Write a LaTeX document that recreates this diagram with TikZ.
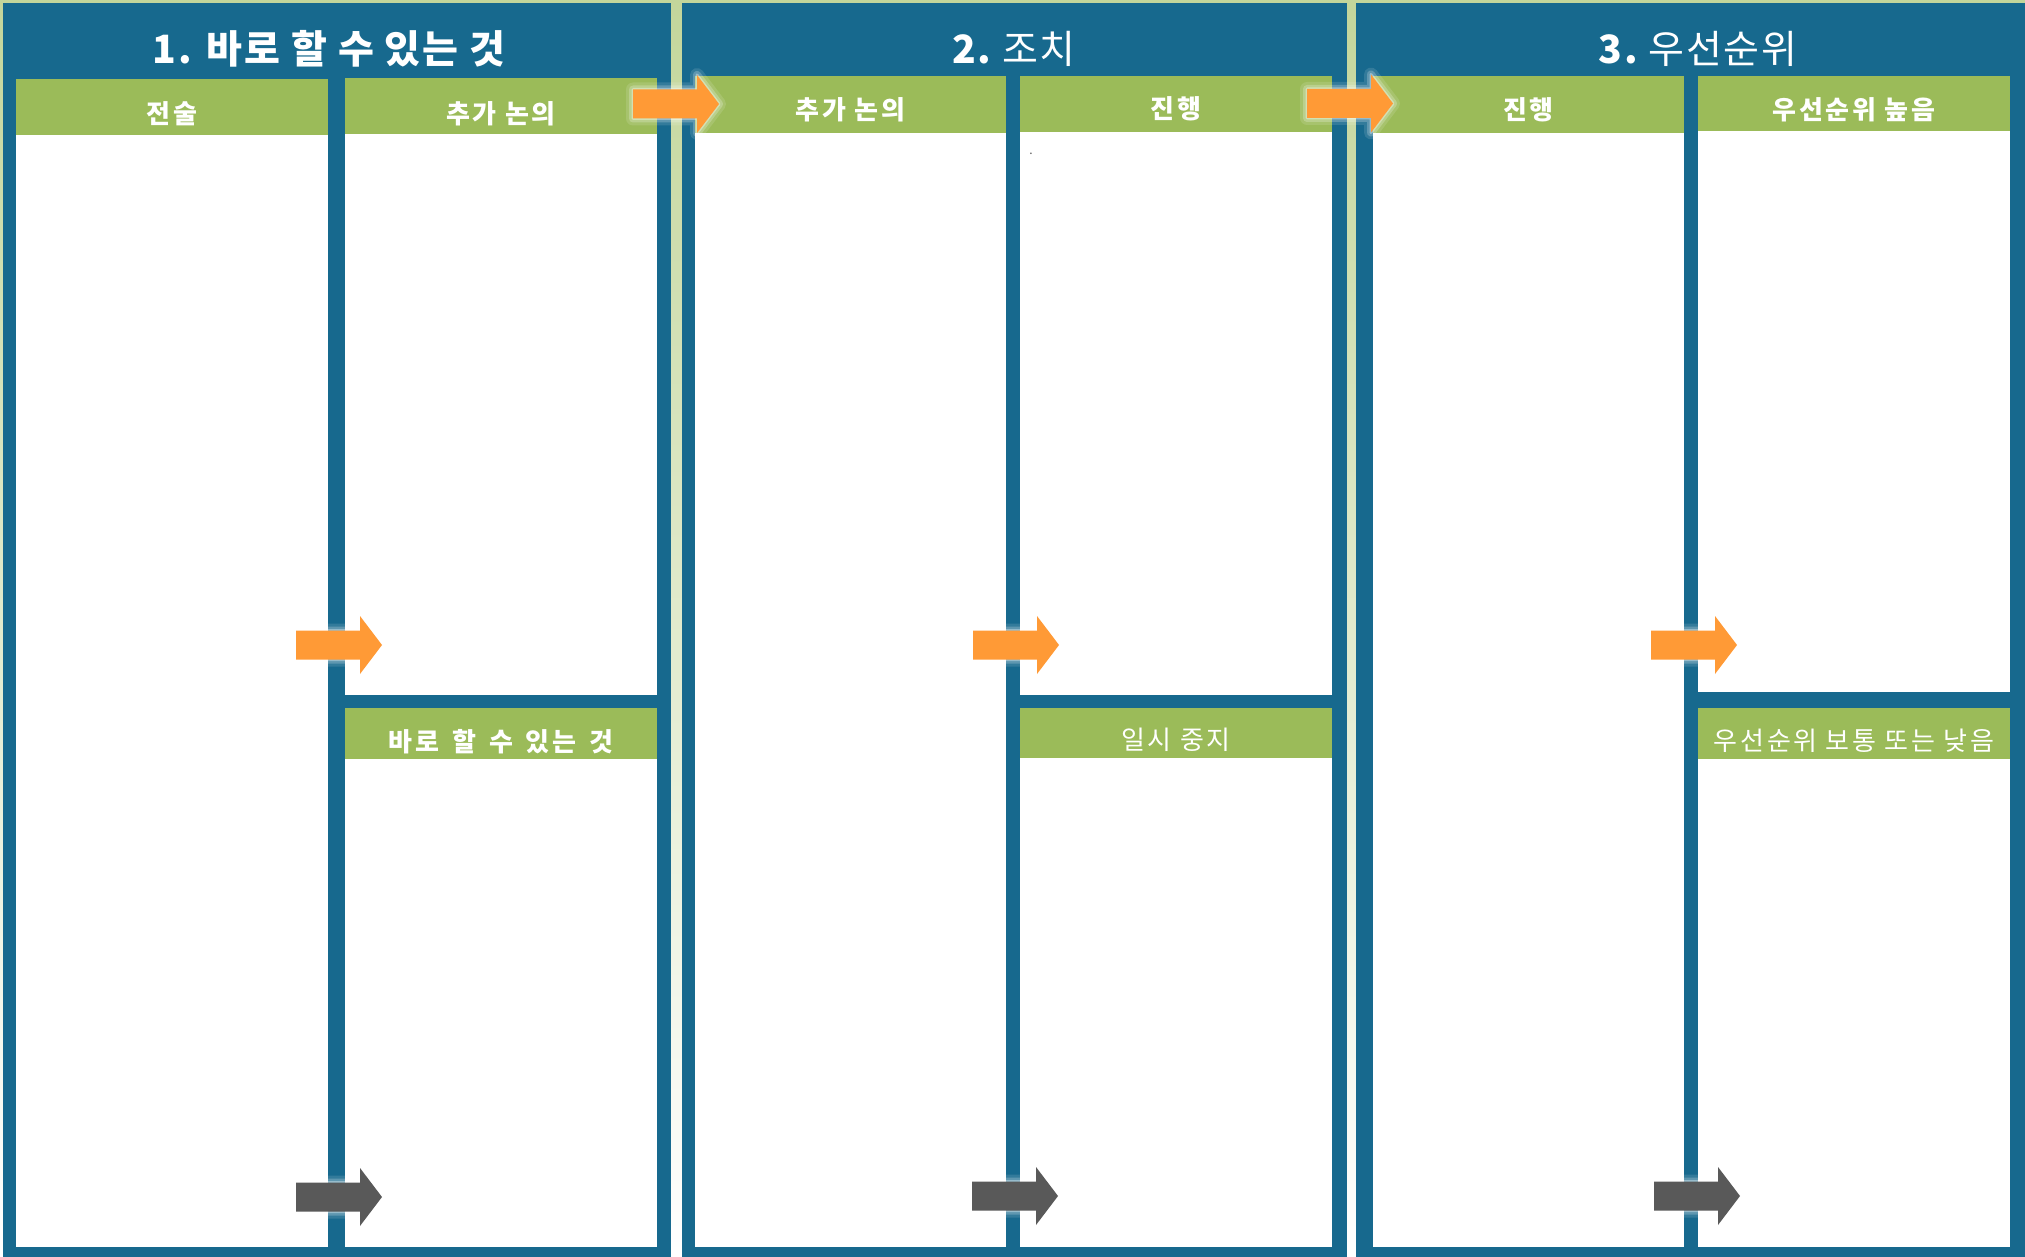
\documentclass[tikz,border=0pt]{standalone}
\usepackage{fontspec}
\newfontfamily\kr[LetterSpace=10]{Noto Sans CJK KR}
\newfontfamily\krt[LetterSpace=5]{Noto Sans CJK KR}
\definecolor{pblue}{HTML}{17698E}
\definecolor{hgreen}{HTML}{9BBB59}
\definecolor{bggreen}{HTML}{C3D69B}
\definecolor{aorange}{HTML}{FF9A36}
\definecolor{agray}{HTML}{595959}
\tikzset{
  panel/.style={fill=pblue},
  colbox/.style={fill=white},
  hdrbox/.style={fill=hgreen},
  titletxt/.style={text=white, inner sep=0pt, anchor=center, font=\krt\fontsize{39}{44}\selectfont},
  hdrbold/.style={text=white, inner sep=0pt, anchor=center, font=\kr\bfseries\fontsize{26}{30}\selectfont},
  hdrreg/.style={text=white, inner sep=0pt, anchor=center, font=\kr\fontsize{26}{30}\selectfont},
  arrowglowA/.style={draw=white, line width=14pt, opacity=0.12, line join=round},
  arrowglowB/.style={draw=white, line width=8pt, opacity=0.22, line join=round},
  arrowglowC/.style={draw=white, line width=3pt, opacity=0.35, line join=round},
}
\newcommand\fatarrow[3]{%
  \foreach \gs in {arrowglowA,arrowglowB,arrowglowC}{%
    \path[\gs] (#1,#2-14.5) -- (#1+64,#2-14.5) -- (#1+64,#2-29) -- (#1+86,#2) -- (#1+64,#2+29) -- (#1+64,#2+14.5) -- (#1,#2+14.5) -- cycle;}
  \fill[#3] (#1,#2-14.5) -- (#1+64,#2-14.5) -- (#1+64,#2-29) -- (#1+86,#2) -- (#1+64,#2+29) -- (#1+64,#2+14.5) -- (#1,#2+14.5) -- cycle;
}
\newcommand\wsp{\hspace{13pt}}
\begin{document}
\begin{tikzpicture}[x=1pt,y=-1pt]
\useasboundingbox (0,0) rectangle (2025,1257);
% background gradient
\shade[top color=bggreen, bottom color=white] (0,0) rectangle (2025,1257);
% panels
\fill[panel] (3,3) rectangle (671,1257);
\fill[panel] (682,3) rectangle (1347,1257);
\fill[panel] (1356,3) rectangle (2025,1257);
% panel 1 columns
\fill[colbox] (16,79) rectangle (328,1247);
\fill[hdrbox] (16,79) rectangle (328,135);
\fill[colbox] (345,78) rectangle (657,695);
\fill[hdrbox] (345,78) rectangle (657,134);
\fill[colbox] (345,708) rectangle (657,1247);
\fill[hdrbox] (345,708) rectangle (657,759);
% panel 2 columns
\fill[colbox] (695,76) rectangle (1006,1247);
\fill[hdrbox] (695,76) rectangle (1006,133);
\fill[colbox] (1020,76) rectangle (1332,695);
\fill[hdrbox] (1020,76) rectangle (1332,132);
\fill[colbox] (1020,708) rectangle (1332,1247);
\fill[hdrbox] (1020,708) rectangle (1332,758);
% panel 3 columns
\fill[colbox] (1373,76) rectangle (1684,1247);
\fill[hdrbox] (1373,76) rectangle (1684,133);
\fill[colbox] (1698,76) rectangle (2010,692);
\fill[hdrbox] (1698,76) rectangle (2010,131);
\fill[colbox] (1698,708) rectangle (2010,1247);
\fill[hdrbox] (1698,708) rectangle (2010,759);
% titles
\node[titletxt] (t1) at (329,49) {\bfseries 1. 바로 할 수 있는 것};
\node[titletxt] (t2) at (1014,49) {\bfseries 2.\mdseries\ 조치};
\node[titletxt] (t3) at (1698,49) {\bfseries 3.\mdseries\ 우선순위};
% headers
\node[hdrbold] (h11) at (172,113.5) {전술};
\node[hdrbold] (h12) at (501,113.5) {추가 논의};
\node[hdrbold] (h13) at (501,742) {바로\wsp 할\wsp 수\wsp 있는\wsp 것};
\node[hdrbold] (h21) at (850.5,109.5) {추가 논의};
\node[hdrbold] (h22) at (1176,109) {진행};
\node[hdrreg]  (h23) at (1176,740) {일시 중지};
\node[hdrbold] (h31) at (1528.5,109.5) {진행};
\node[hdrbold] (h32) at (1854,109.5) {우선순위 높음};
\node[hdrreg]  (h33) at (1854,741) {우선순위 보통 또는 낮음};
% stray dot
\node[text=agray, inner sep=0pt, font=\kr\fontsize{12}{14}\selectfont] (dot) at (1031,154) {.};
% arrows
\fatarrow{633}{104}{aorange}
\fatarrow{1307}{103.5}{aorange}
\fatarrow{296}{645}{aorange}
\fatarrow{973}{645}{aorange}
\fatarrow{1651}{645}{aorange}
\fatarrow{296}{1197}{agray}
\fatarrow{972}{1196}{agray}
\fatarrow{1654}{1196}{agray}
\end{tikzpicture}
\end{document}
